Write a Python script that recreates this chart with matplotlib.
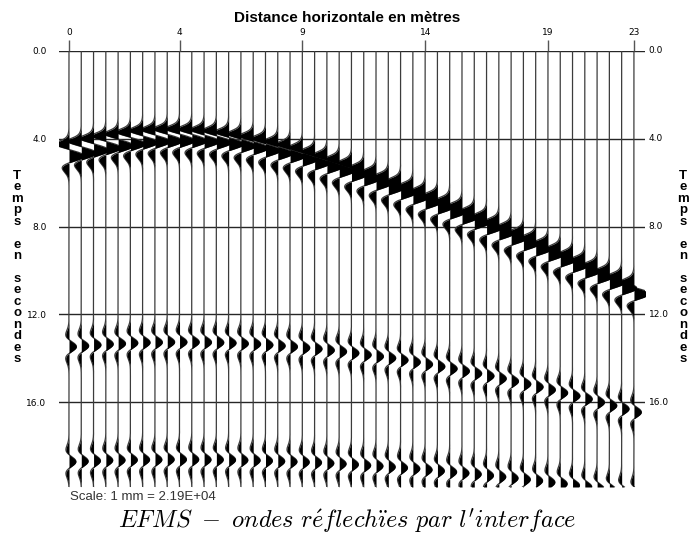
import numpy as np
import matplotlib
matplotlib.use("Agg")
import matplotlib.pyplot as plt
from matplotlib.transforms import blended_transform_factory

plt.rcParams["mathtext.fontset"] = "cm"

# ---------------- data ----------------
offsets = [0.0, 0.5, 1.0, 1.5, 2.0, 2.5, 3.0, 3.5, 4.0, 4.5, 5.0, 5.5, 6.0, 6.5,
           7.0, 7.5, 8.0, 8.5, 9.0, 9.5, 10.0, 10.5, 11.0, 11.5, 12.0, 12.5,
           13.0, 13.5, 14.0, 14.5, 15.0, 15.5, 16.0, 16.5, 17.0, 17.5, 18.0,
           18.5, 19.0, 19.5, 20.0, 20.5, 21.0, 21.5, 22.0, 22.5, 23.0]

# peak times (s) of the three reflected events on each trace
event1_t = [4.79, 4.66, 4.53, 4.42, 4.32, 4.24, 4.17, 4.13, 4.10, 4.09,
            4.10, 4.13, 4.17, 4.24, 4.32, 4.42, 4.53, 4.66, 4.79, 4.94,
            5.11, 5.28, 5.46, 5.64, 5.84, 6.04, 6.25, 6.46, 6.68, 6.90,
            7.12, 7.35, 7.59, 7.82, 8.06, 8.30, 8.54, 8.79, 9.03, 9.28,
            9.53, 9.78, 10.04, 10.29, 10.55, 10.80, 11.06]
event2_t = [13.46, 13.42, 13.38, 13.34, 13.32, 13.29, 13.27, 13.26, 13.25, 13.25,
            13.25, 13.26, 13.27, 13.29, 13.32, 13.34, 13.38, 13.42, 13.46, 13.51,
            13.56, 13.62, 13.68, 13.75, 13.83, 13.90, 13.98, 14.07, 14.16, 14.26,
            14.36, 14.46, 14.57, 14.68, 14.79, 14.91, 15.03, 15.16, 15.29, 15.42,
            15.56, 15.70, 15.84, 15.99, 16.14, 16.29, 16.44]
event3_t = [18.69, 18.67, 18.65, 18.63, 18.62, 18.61, 18.60, 18.60, 18.59, 18.59,
            18.59, 18.60, 18.60, 18.61, 18.62, 18.63, 18.65, 18.67, 18.69, 18.71,
            18.73, 18.76, 18.79, 18.82, 18.86, 18.89, 18.93, 18.97, 19.01, 19.06,
            19.11, 19.16, 19.21, 19.26, 19.32, 19.38, 19.44, 19.50, 19.56, 19.63,
            19.70, 19.77, 19.84, 19.92, 19.99, 20.07, 20.15]
event_amp = [0.62, 0.30, 0.28]

x_tick_pos = [0.0, 4.5, 9.5, 14.5, 19.5, 23.0]
x_tick_labels = ["0", "4", "9", "14", "19", "23"]
y_ticks = [0.0, 4.0, 8.0, 12.0, 16.0]
y_tick_labels = ["0.0", "4.0", "8.0", "12.0", "16.0"]

# ---------------- figure ----------------
W, H = 691, 537
fig = plt.figure(figsize=(W / 100, H / 100), dpi=100)
ax_l, ax_r, ax_t, ax_b = 59, 645, 50.7, 487
ax = fig.add_axes([ax_l / W, 1 - ax_b / H, (ax_r - ax_l) / W, (ax_b - ax_t) / H])
tmax = 19.85
ax.set_xlim(-0.407, 23.45)
ax.set_ylim(tmax, 0)
for s in ax.spines.values():
    s.set_visible(False)

f0 = 0.715


def ricker(tau):
    a = (np.pi * f0 * tau) ** 2
    return (1 - 2 * a) * np.exp(-a)


t = np.linspace(0, tmax, 2400)
events = [event1_t, event2_t, event3_t]
for i, x0 in enumerate(offsets):
    s = np.zeros_like(t)
    for e, times in enumerate(events):
        tau = t - times[i]
        s += event_amp[e] * ricker(tau)
        if e == 0:
            s -= 0.30 * np.exp(-((tau + 0.55) / 0.17) ** 2)
    s = np.clip(s, -0.55, 0.6)
    ax.fill_betweenx(t, x0, x0 + s, color="black", lw=0, zorder=3)
    ax.plot(x0 + s, t, color="#3c3c3c", lw=0.9, zorder=2)

for yv in y_ticks:
    ax.axhline(yv, color="#262626", lw=1.0, zorder=1)

ax.xaxis.tick_top()
ax.set_xticks(x_tick_pos)
ax.set_xticklabels(x_tick_labels)
ax.tick_params(axis="x", length=8, width=1, color="#555555", labelsize=6.5, pad=2)
ax.set_yticks(y_ticks)
ax.set_yticklabels(y_tick_labels)
ax.tick_params(axis="y", length=0, labelsize=6.5, pad=9)
trans = blended_transform_factory(ax.transAxes, ax.transData)
for yv, lab in zip(y_ticks, y_tick_labels):
    ax.text(1.006, yv, lab, transform=trans, fontsize=6.5, ha="left", va="center")

fig.text(347 / W, 1 - 18 / H, "Distance horizontale en mètres", ha="center",
         va="center", fontsize=11, fontweight="bold", family="Liberation Sans")

label = "Temps en secondes"
n = len(label)
y0, y1 = 176, 359
for k, ch in enumerate(label):
    if ch == " ":
        continue
    yy = y0 + (y1 - y0) * k / (n - 1)
    for xx in (17, 683):
        fig.text(xx / W, 1 - yy / H, ch, ha="center", va="center", fontsize=9.5,
                 fontweight="bold", family="Liberation Sans")

fig.text(70 / W, 1 - 497 / H, "Scale: 1 mm = 2.19E+04", ha="left", va="center",
         fontsize=9.5, color="#333333", family="Liberation Sans")
fig.text(347 / W, 1 - 521 / H,
         r"$EFMS\ -\ ondes\ r\acute{e}flech\ddot{\imath}es\ par\ l'interface$",
         ha="center", va="center", fontsize=17.5)

fig.savefig("out.png", dpi=100)
